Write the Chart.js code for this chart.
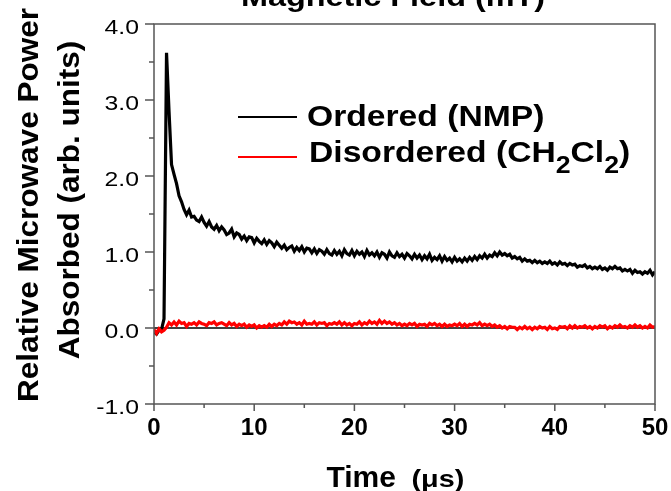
<!DOCTYPE html>
<html>
<head>
<meta charset="utf-8">
<script src="https://cdn.jsdelivr.net/npm/chart.js@4.4.1/dist/chart.umd.min.js"></script>
<style>
  html, body { margin: 0; padding: 0; background: #fff; }
  #wrap { width: 671px; height: 491px; }
</style>
</head>
<body>
<div id="wrap"><canvas id="chart" width="671" height="491"></canvas></div>
<script>
// Transient microwave absorption traces, sampled every 0.25 µs from 0 to 50 µs.
const SAMPLE_STEP_US = 0.25;

// Ordered (NMP) trace, four samples per microsecond.
const ORDERED_NMP = [
  -0.05, -0.08, -0.03, -0.02,
  0.12, 3.62, 2.85, 2.15,
  2.02, 1.90, 1.74, 1.66,
  1.56, 1.49, 1.55, 1.46,
  1.47, 1.42, 1.40, 1.46,
  1.39, 1.34, 1.40, 1.33,
  1.30, 1.35, 1.28, 1.33,
  1.29, 1.23, 1.25, 1.30,
  1.20, 1.25, 1.23, 1.17,
  1.21, 1.15, 1.20, 1.19,
  1.12, 1.18, 1.14, 1.11,
  1.16, 1.10, 1.15, 1.12,
  1.07, 1.13, 1.09, 1.05,
  1.09, 1.03, 1.06, 1.08,
  1.01, 1.06, 1.02, 1.07,
  1.00, 1.05, 1.04, 0.99,
  1.04, 0.98, 1.03, 1.01,
  0.97, 1.03, 0.98, 0.96,
  1.02, 0.97, 1.01, 0.95,
  1.03, 0.98, 0.96, 1.02,
  0.95, 1.01, 0.97, 1.00,
  0.94, 1.02, 0.96, 0.99,
  0.95, 1.00, 0.93, 0.99,
  0.97, 0.92, 1.00, 0.95,
  0.93, 0.99, 0.94, 0.97,
  0.92, 0.98, 0.95, 0.91,
  0.97, 0.92, 0.96, 0.90,
  0.95, 0.91, 0.97, 0.89,
  0.93, 0.90, 0.95, 0.88,
  0.94, 0.89, 0.92, 0.87,
  0.93, 0.88, 0.91, 0.87,
  0.92, 0.88, 0.93, 0.89,
  0.94, 0.90, 0.95, 0.92,
  0.97, 0.92, 0.96, 0.94,
  0.99, 0.95, 1.00, 0.96,
  0.98, 0.95, 0.97, 0.92,
  0.94, 0.91, 0.93, 0.88,
  0.91, 0.88, 0.89, 0.86,
  0.89, 0.86, 0.88, 0.85,
  0.87, 0.85, 0.88, 0.84,
  0.86, 0.83, 0.87, 0.84,
  0.85, 0.82, 0.85, 0.83,
  0.84, 0.80, 0.82, 0.81,
  0.83, 0.79, 0.81, 0.78,
  0.80, 0.78, 0.81, 0.77,
  0.79, 0.76, 0.80, 0.78,
  0.81, 0.78, 0.79, 0.75,
  0.77, 0.75, 0.77, 0.72,
  0.76, 0.73, 0.74, 0.71,
  0.74, 0.72, 0.76, 0.70,
  0.74
];

// Disordered (CH2Cl2) trace, same sampling.
const DISORDERED_CH2CL2 = [
  -0.02, -0.07, -0.01, -0.05,
  -0.03, 0.01, 0.07, 0.04,
  0.08, 0.04, 0.09, 0.06,
  0.07, 0.02, 0.06, 0.05,
  0.07, 0.04, 0.08, 0.06,
  0.05, 0.03, 0.07, 0.06,
  0.08, 0.04, 0.06, 0.07,
  0.05, 0.03, 0.07, 0.04,
  0.06, 0.02, 0.05, 0.03,
  0.05, 0.01, 0.04, 0.02,
  0.04, 0.00, 0.03, 0.01,
  0.03, 0.01, 0.05, 0.02,
  0.05, 0.03, 0.06, 0.04,
  0.08, 0.05, 0.09, 0.07,
  0.08, 0.05, 0.07, 0.04,
  0.09, 0.05, 0.06, 0.05,
  0.08, 0.04, 0.07, 0.06,
  0.07, 0.03, 0.06, 0.05,
  0.07, 0.05, 0.08, 0.04,
  0.07, 0.04, 0.06, 0.03,
  0.06, 0.05, 0.08, 0.04,
  0.07, 0.05, 0.09, 0.06,
  0.08, 0.05, 0.10, 0.06,
  0.09, 0.06, 0.08, 0.05,
  0.07, 0.04, 0.06, 0.03,
  0.05, 0.03, 0.06, 0.04,
  0.06, 0.02, 0.05, 0.04,
  0.05, 0.02, 0.06, 0.04,
  0.06, 0.03, 0.05, 0.02,
  0.05, 0.02, 0.04, 0.03,
  0.05, 0.03, 0.06, 0.02,
  0.05, 0.02, 0.05, 0.04,
  0.06, 0.04, 0.07, 0.03,
  0.05, 0.03, 0.05, 0.02,
  0.04, 0.01, 0.03, 0.00,
  0.02, -0.01, 0.02, 0.01,
  0.01, -0.02, 0.01, -0.01,
  0.02, -0.01, 0.01, -0.02,
  0.01, -0.01, 0.02, 0.00,
  0.01, -0.02, 0.02, -0.01,
  0.00, -0.02, 0.02, 0.01,
  0.02, -0.01, 0.03, 0.00,
  0.03, 0.00, 0.02, 0.01,
  0.03, 0.00, 0.02, -0.01,
  0.02, 0.00, 0.03, 0.01,
  0.03, -0.01, 0.02, 0.00,
  0.03, 0.01, 0.04, 0.01,
  0.02, 0.00, 0.03, 0.01,
  0.04, 0.01, 0.03, 0.00,
  0.02, 0.00, 0.04, 0.01,
  0.02
];

// Axis tick labels
const X_TICK_LABELS = ['0', '10', '20', '30', '40', '50'];
const Y_TICK_LABELS = ['-1.0', '0.0', '1.0', '2.0', '3.0', '4.0'];
const X_MINOR_TICKS = [5, 15, 25, 35, 45];
const Y_MINOR_TICKS = [-0.5, 0.5, 1.5, 2.5, 3.5];

const SERIES_NAMES = ['Ordered (NMP)', 'Disordered (CH2Cl2)'];
const SERIES_COLORS = ['#000000', '#ff0000'];

const TOP_TITLE = 'Magnetic Field (mT)';
const X_TITLE = ['Time', '(\u03bcs)'];
const Y_TITLE = ['Relative Microwave Power', 'Absorbed (arb. units)'];

const FONT = '"Liberation Sans", Arial, Helvetica, sans-serif';
const AXIS_COLOR = '#555555';

function toPoints(values) {
  return values.map((v, i) => ({ x: i * SAMPLE_STEP_US, y: v }));
}

// Draw text with an optional horizontal stretch factor.
function drawText(ctx, str, x, y, font, sx, align) {
  ctx.save();
  ctx.font = font;
  ctx.fillStyle = '#000';
  ctx.textBaseline = 'alphabetic';
  ctx.textAlign = align || 'left';
  ctx.translate(x, y);
  ctx.scale(sx || 1, 1);
  ctx.fillText(str, 0, 0);
  ctx.restore();
}

function textWidth(ctx, str, font, sx) {
  ctx.save();
  ctx.font = font;
  const w = ctx.measureText(str).width * (sx || 1);
  ctx.restore();
  return w;
}

const background = {
  id: 'background',
  beforeDraw(chart) {
    const ctx = chart.ctx;
    ctx.save();
    ctx.fillStyle = '#ffffff';
    ctx.fillRect(0, 0, chart.width, chart.height);
    ctx.restore();
  }
};

// Zero reference line under the traces
const zeroLine = {
  id: 'zeroLine',
  beforeDatasetsDraw(chart) {
    const { ctx, chartArea, scales } = chart;
    const y = scales.y.getPixelForValue(0);
    ctx.save();
    ctx.strokeStyle = '#000';
    ctx.lineWidth = 1.5;
    ctx.beginPath();
    ctx.moveTo(chartArea.left, y);
    ctx.lineTo(chartArea.right, y);
    ctx.stroke();
    ctx.restore();
  }
};

// Frame, ticks, tick labels, titles and legend
const decorations = {
  id: 'decorations',
  afterDraw(chart) {
    const { ctx, chartArea: a, scales } = chart;
    const xs = scales.x, ys = scales.y;

    ctx.save();
    ctx.strokeStyle = AXIS_COLOR;
    ctx.lineWidth = 1.5;
    ctx.strokeRect(a.left, a.top, a.right - a.left, a.bottom - a.top);

    ctx.beginPath();
    Y_TICK_LABELS.forEach(t => {
      const y = ys.getPixelForValue(parseFloat(t));
      ctx.moveTo(a.left - 9, y); ctx.lineTo(a.left, y);
    });
    Y_MINOR_TICKS.forEach(v => {
      const y = ys.getPixelForValue(v);
      ctx.moveTo(a.left - 5, y); ctx.lineTo(a.left, y);
    });
    X_TICK_LABELS.forEach(t => {
      const x = xs.getPixelForValue(parseFloat(t));
      ctx.moveTo(x, a.bottom); ctx.lineTo(x, a.bottom + 7);
    });
    X_MINOR_TICKS.forEach(v => {
      const x = xs.getPixelForValue(v);
      ctx.moveTo(x, a.bottom); ctx.lineTo(x, a.bottom + 4);
    });
    ctx.stroke();
    ctx.restore();

    // tick labels
    const yTickFont = '21px ' + FONT;
    Y_TICK_LABELS.forEach(t => {
      const y = ys.getPixelForValue(parseFloat(t));
      drawText(ctx, t, a.left - 15, y + 9.5, yTickFont, 1.18, 'right');
    });
    const xTickFont = 'bold 24px ' + FONT;
    X_TICK_LABELS.forEach(t => {
      const x = xs.getPixelForValue(parseFloat(t));
      drawText(ctx, t, x, a.bottom + 31, xTickFont, 1, 'center');
    });

    // x title
    const cx = (a.left + a.right) / 2;
    drawText(ctx, X_TITLE[0], cx - 78, 487, 'bold 30px ' + FONT, 1, 'left');
    drawText(ctx, X_TITLE[1], cx + 7, 487, 'bold 24px ' + FONT, 1.2, 'left');

    // y title (two rotated lines)
    const yFont = 'bold 30px ' + FONT;
    [[Y_TITLE[0], 38, 205], [Y_TITLE[1], 79, 200]].forEach(([str, bx, by]) => {
      ctx.save();
      ctx.font = yFont;
      ctx.fillStyle = '#000';
      ctx.textAlign = 'center';
      ctx.textBaseline = 'alphabetic';
      ctx.translate(bx, by);
      ctx.rotate(-Math.PI / 2);
      ctx.scale(1.05, 1);
      ctx.fillText(str, 0, 0);
      ctx.restore();
    });

    // top title (partly outside the canvas)
    drawText(ctx, TOP_TITLE, 393, 6, 'bold 27px ' + FONT, 1.2, 'center');

    // legend
    const legFont = 'bold 29px ' + FONT;
    const subFont = 'bold 23px ' + FONT;
    const sx = 1.16;
    ctx.save();
    ctx.lineWidth = 2;
    ctx.strokeStyle = SERIES_COLORS[0];
    ctx.beginPath(); ctx.moveTo(238, 117); ctx.lineTo(297, 117); ctx.stroke();
    ctx.strokeStyle = SERIES_COLORS[1];
    ctx.beginPath(); ctx.moveTo(238, 157); ctx.lineTo(297, 157); ctx.stroke();
    ctx.restore();

    drawText(ctx, SERIES_NAMES[0], 307, 125.5, legFont, sx, 'left');

    // "Disordered (CH2Cl2)" with subscripts
    const parts = [['Disordered (CH', false], ['2', true], ['Cl', false], ['2', true], [')', false]];
    let px = 309;
    parts.forEach(([s, sub]) => {
      const f = sub ? subFont : legFont;
      drawText(ctx, s, px, sub ? 173 : 161.5, f, sx, 'left');
      px += textWidth(ctx, s, f, sx);
    });
  }
};

new Chart(document.getElementById('chart'), {
  type: 'line',
  data: {
    datasets: [
      {
        label: SERIES_NAMES[0],
        data: toPoints(ORDERED_NMP),
        borderColor: SERIES_COLORS[0],
        borderWidth: 3.2,
        pointRadius: 0,
        tension: 0,
        order: 2
      },
      {
        label: SERIES_NAMES[1],
        data: toPoints(DISORDERED_CH2CL2),
        borderColor: SERIES_COLORS[1],
        borderWidth: 3.2,
        pointRadius: 0,
        tension: 0,
        order: 1
      }
    ]
  },
  options: {
    responsive: false,
    devicePixelRatio: 1,
    animation: false,
    layout: { padding: { left: 0, right: 16, top: 24, bottom: 0 } },
    plugins: { legend: { display: false }, tooltip: { enabled: false } },
    scales: {
      x: {
        type: 'linear',
        min: 0,
        max: 50,
        grid: { display: false },
        border: { display: false },
        ticks: { display: false },
        afterFit(scale) { scale.height = 87; }
      },
      y: {
        type: 'linear',
        min: -1,
        max: 4,
        grid: { display: false },
        border: { display: false },
        ticks: { display: false },
        afterFit(scale) { scale.width = 154; }
      }
    }
  },
  plugins: [background, zeroLine, decorations]
});
</script>
</body>
</html>
